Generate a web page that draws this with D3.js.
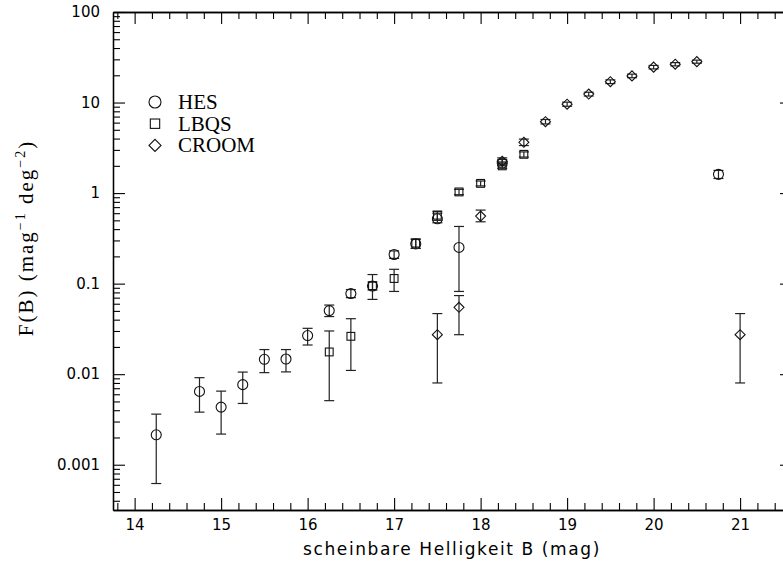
<!DOCTYPE html>
<meta charset="utf-8">
<style>
    body { margin: 0; background: #fff; }
    .domain { stroke: #000; stroke-width: 1.3px; }
    .tick line { stroke: #000; stroke-width: 1.1px; }
    .tick text { font-family: "DejaVu Sans", sans-serif; font-size: 15px; fill: #000; }
    .err { stroke: #222; stroke-width: 1.2px; fill: none; }
    .sym { stroke: #111; stroke-width: 1.1px; fill: none; }
    .legend text { font-family: "Liberation Serif", serif; font-size: 21px; fill: #000; }
    .xtitle { font-family: "DejaVu Sans", sans-serif; font-size: 17px; letter-spacing: 1.6px; fill: #000; }
    .ytitle { font-family: "Liberation Serif", serif; font-size: 21px; letter-spacing: 2px; fill: #000; }
</style>
<body>
    <svg width="783" height="563"></svg>
</body>
<script src="https://d3js.org/d3.v7.min.js"></script>
<script>

    // HES
    var hesMag = [14.25, 14.75, 15.0, 15.25, 15.5, 15.75, 16.0, 16.25, 16.5, 16.75, 17.0, 17.25, 17.5, 17.75, 18.25, 20.75];
    var hesF   = [0.00214, 0.00645, 0.00433, 0.00766, 0.0146, 0.0147, 0.0267, 0.0504, 0.0777, 0.094, 0.210, 0.275, 0.52, 0.251, 2.15, 1.61];
    var hesLo  = [0.00062, 0.00381, 0.00218, 0.00475, 0.0104, 0.0106, 0.021, 0.0433, 0.070, 0.085, 0.19, 0.245, 0.47, 0.082, 2.0, 1.45];
    var hesHi  = [0.00362, 0.00915, 0.0065, 0.01055, 0.0187, 0.0187, 0.0321, 0.058, 0.086, 0.104, 0.23, 0.31, 0.60, 0.428, 2.35, 1.78];

    // LBQS
    var lbqsMag = [16.25, 16.5, 16.75, 17.0, 17.25, 17.5, 17.75, 18.0, 18.25, 18.5];
    var lbqsF   = [0.0176, 0.0262, 0.095, 0.114, 0.28, 0.57, 1.03, 1.28, 2.0, 2.68];
    var lbqsLo  = [0.0051, 0.011, 0.067, 0.082, 0.245, 0.50, 0.96, 1.20, 1.88, 2.5];
    var lbqsHi  = [0.030, 0.041, 0.126, 0.144, 0.31, 0.63, 1.10, 1.36, 2.14, 2.85];

    // CROOM
    var croomMag = [17.5, 17.75, 18.0, 18.25, 18.5, 18.75, 19.0, 19.25, 19.5, 19.75, 20.0, 20.25, 20.5, 21.0];
    var croomF   = [0.0273, 0.0548, 0.557, 2.25, 3.64, 6.15, 9.58, 12.4, 17.0, 19.7, 24.6, 26.5, 28.3, 0.0273];
    var croomLo  = [0.008, 0.0273, 0.482, 2.05, 3.35, 5.8, 9.1, 11.8, 16.2, 18.8, 23.5, 25.4, 27.2, 0.008];
    var croomHi  = [0.0467, 0.0738, 0.649, 2.45, 3.95, 6.5, 10.1, 13.0, 17.8, 20.6, 25.7, 27.6, 29.4, 0.0467];

    var xTicks = [14, 15, 16, 17, 18, 19, 20, 21];
    var yTicks = [0.001, 0.01, 0.1, 1, 10, 100];
    var yTickLabels = ["0.001", "0.01", "0.1", "1", "10", "100"];
    var legendNames = ["HES", "LBQS", "CROOM"];

    var svg = d3.select("svg");
    var mLeft = 113, mRight = 792, mTop = 12, mBottom = 510;

    var x = d3.scaleLinear().domain([13.75, 21.6]).range([mLeft, mRight]);
    var y = d3.scaleLog().domain([Math.pow(10, -3.5), 100]).range([mBottom, mTop]);

    // minor tick values
    var xMinor = d3.range(13.8, 21.61, 0.2).filter(function (v) { return Math.abs(v - Math.round(v)) > 0.01; });
    var yMinor = [];
    for (var e = -4; e <= 1; e++) {
        for (var m = 2; m <= 9; m++) {
            var v = m * Math.pow(10, e);
            if (v >= Math.pow(10, -3.5) && v <= 100) yMinor.push(v);
        }
    }

    function axisG(axis, tx, ty) {
        return svg.append("g").attr("transform", "translate(" + tx + "," + ty + ")").call(axis);
    }

    // bottom / top
    axisG(d3.axisBottom(x).tickValues(xMinor).tickSizeInner(-7).tickSizeOuter(0).tickFormat(""), 0, mBottom);
    axisG(d3.axisBottom(x).tickValues(xTicks).tickSizeInner(-12).tickSizeOuter(0).tickPadding(9).tickFormat(d3.format("d")), 0, mBottom);
    axisG(d3.axisTop(x).tickValues(xMinor).tickSizeInner(-7).tickSizeOuter(0).tickFormat(""), 0, mTop);
    axisG(d3.axisTop(x).tickValues(xTicks).tickSizeInner(-12).tickSizeOuter(0).tickFormat(""), 0, mTop);

    // left / right
    axisG(d3.axisLeft(y).tickValues(yMinor).tickSizeInner(-7).tickSizeOuter(0).tickFormat(""), mLeft, 0);
    axisG(d3.axisLeft(y).tickValues(yTicks).tickSizeInner(-12).tickSizeOuter(0).tickPadding(13)
        .tickFormat(function (d, i) { return yTickLabels[i]; }), mLeft, 0);
    axisG(d3.axisRight(y).tickValues(yMinor).tickSizeInner(-7).tickSizeOuter(0).tickFormat(""), mRight, 0);
    axisG(d3.axisRight(y).tickValues(yTicks).tickSizeInner(-12).tickSizeOuter(0).tickFormat(""), mRight, 0);

    svg.selectAll(".tick text").attr("fill", "#000");

    // symbols
    function drawSym(g, shape, cx, cy, s) {
        if (shape === "circle") {
            g.append("circle").attr("class", "sym").attr("cx", cx).attr("cy", cy).attr("r", s);
        } else if (shape === "square") {
            var h = s * 0.78;
            g.append("rect").attr("class", "sym").attr("x", cx - h).attr("y", cy - h).attr("width", 2 * h).attr("height", 2 * h);
        } else {
            g.append("path").attr("class", "sym")
                .attr("d", "M" + (cx - s) + "," + cy + "L" + cx + "," + (cy - s) + "L" + (cx + s) + "," + cy + "L" + cx + "," + (cy + s) + "Z");
        }
    }

    function drawSeries(mag, f, lo, hi, shape, size) {
        var g = svg.append("g");
        mag.forEach(function (m, i) {
            var cx = x(m);
            g.append("line").attr("class", "err").attr("x1", cx).attr("x2", cx).attr("y1", y(lo[i])).attr("y2", y(hi[i]));
            [lo[i], hi[i]].forEach(function (v) {
                g.append("line").attr("class", "err").attr("x1", cx - 5).attr("x2", cx + 5).attr("y1", y(v)).attr("y2", y(v));
            });
            drawSym(g, shape, cx, y(f[i]), size);
        });
    }

    drawSeries(hesMag, hesF, hesLo, hesHi, "circle", 5);
    drawSeries(lbqsMag, lbqsF, lbqsLo, lbqsHi, "square", 5);
    drawSeries(croomMag, croomF, croomLo, croomHi, "diamond", 5);

    // legend
    var shapes = ["circle", "square", "diamond"];
    var legend = svg.append("g").attr("class", "legend");
    legendNames.forEach(function (name, i) {
        var cy = 102 + i * 21.7;
        drawSym(legend, shapes[i], 155, cy, 6);
        legend.append("text").attr("x", 178).attr("y", cy + 7).text(name);
    });

    // axis titles
    svg.append("text").attr("class", "xtitle")
        .attr("x", 452).attr("y", 555)
        .attr("text-anchor", "middle")
        .text("scheinbare Helligkeit B (mag)");

    var yt = svg.append("text").attr("class", "ytitle")
        .attr("transform", "translate(33," + 238 + ") rotate(-90)")
        .attr("text-anchor", "middle");
    yt.append("tspan").text("F(B)  (mag");
    yt.append("tspan").attr("dy", -8).attr("font-size", "14px").text("\u22121");
    yt.append("tspan").attr("dy", 8).text("  deg");
    yt.append("tspan").attr("dy", -8).attr("font-size", "14px").text("\u22122");
    yt.append("tspan").attr("dy", 8).text(")");

</script>
